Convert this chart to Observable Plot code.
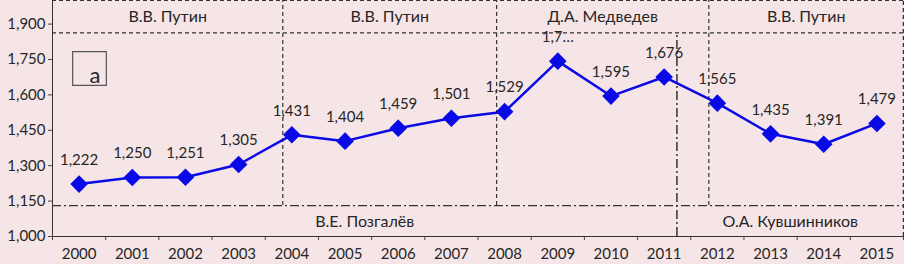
<!DOCTYPE html>
<html>
<head>
<meta charset="utf-8">
<script src="https://cdn.jsdelivr.net/npm/d3@7"></script>
<script src="https://cdn.jsdelivr.net/npm/@observablehq/plot@0.6"></script>
<style>
  html, body { margin: 0; padding: 0; background: #f6e5e7; }
  #chart svg { display: block; }
</style>
</head>
<body>
<div id="chart"></div>
<script>
// ---- data ----
const years = [2000, 2001, 2002, 2003, 2004, 2005, 2006, 2007, 2008, 2009, 2010, 2011, 2012, 2013, 2014, 2015];
const values = [1222, 1250, 1251, 1305, 1431, 1404, 1459, 1501, 1529, 1743, 1595, 1676, 1565, 1435, 1391, 1479];
const valueLabels = ["1,222", "1,250", "1,251", "1,305", "1,431", "1,404", "1,459", "1,501", "1,529", "1,7…", "1,595", "1,676", "1,565", "1,435", "1,391", "1,479"];
const yTicks = [1000, 1150, 1300, 1450, 1600, 1750, 1900];

// presidential terms (top band), in year units on the x scale
const presidents = ["В.В. Путин", "В.В. Путин", "Д.А. Медведев", "В.В. Путин"];
const presStart = [1999.5, 2003.83, 2007.85, 2011.84];
const presEnd = [2003.83, 2007.85, 2011.84, 2015.5];
// governors (bottom band)
const governors = ["В.Е. Позгалёв", "О.А. Кувшинников"];
const govStart = [1999.5, 2011.24];
const govEnd = [2011.24, 2015.5];
// band boundaries on the y scale
const yMin = 1000, yMax = 2000, presLine = 1863, govLine = 1131;
const panelLabel = "а";

// ---- tables built from arrays ----
const series = years.map((year, i) => ({year, value: values[i], label: valueLabels[i]}));
const presTable = presidents.map((name, i) => ({name, start: presStart[i], end: presEnd[i]}));
const govTable = governors.map((name, i) => ({name, start: govStart[i], end: govEnd[i]}));
const xMin = years[0] - 0.5, xMax = years[years.length - 1] + 0.5;
const bounds = d3.range(years.length + 1).map(i => xMin + i);

const ink = "#262626";
const dash = "4,3";
const dashDot = "9,3,2,3";

const chart = Plot.plot({
  width: 904,
  height: 264,
  marginLeft: 52,
  marginRight: 1,
  marginTop: 0,
  marginBottom: 28,
  style: {background: "#f6e5e7", fontFamily: "Lato, 'Open Sans', sans-serif", fontSize: "15px", color: ink},
  x: {domain: [xMin, xMax]},
  y: {domain: [yMin, yMax]},
  marks: [
    // y axis
    Plot.axisY({ticks: yTicks, tickFormat: d3.format(","), tickSize: 4, tickPadding: 3, label: null, fontSize: 15, stroke: "#444"}),
    // x axis: tick marks at band boundaries, labels at years
    Plot.axisX({ticks: bounds, tickFormat: () => "", tickSize: 4, label: null, stroke: "#444"}),
    Plot.axisX({ticks: years, tickFormat: d => String(d), tickSize: 0, tickPadding: 12, label: null, fontSize: 15}),
    // frame lines
    Plot.ruleX([xMin], {y1: yMin, y2: yMax, stroke: "#333", strokeWidth: 1}),
    Plot.ruleY([yMin], {x1: xMin, x2: xMax, stroke: "#333", strokeWidth: 1.2}),
    Plot.ruleY([yMax], {x1: xMin, x2: xMax, stroke: "#333", strokeWidth: 1.2, strokeDasharray: dash}),
    Plot.ruleX([xMax], {y1: yMin, y2: yMax, stroke: "#333", strokeWidth: 1.5, strokeDasharray: dash}),
    // president band
    Plot.ruleY([presLine], {x1: xMin, x2: xMax, stroke: "#333", strokeWidth: 1.2, strokeDasharray: dash}),
    Plot.ruleX(presTable.slice(1), {x: "start", y1: govLine, y2: yMax, stroke: "#333", strokeWidth: 1.2, strokeDasharray: dash}),
    Plot.text(presTable, {x: d => (d.start + d.end) / 2, y: (presLine + yMax) / 2, text: "name", fontSize: 16, fill: ink}),
    // governor band
    Plot.ruleY([govLine], {x1: xMin, x2: xMax, stroke: "#333", strokeWidth: 1.2, strokeDasharray: dashDot}),
    Plot.ruleX(govTable.slice(1), {x: "start", y1: yMin, y2: presLine, stroke: "#333", strokeWidth: 1.5, strokeDasharray: dashDot}),
    Plot.text(govTable, {x: d => (d.start + d.end) / 2, y: (govLine + yMin) / 2 - 2, text: "name", fontSize: 16, fill: ink}),
    // panel label box
    Plot.dot([panelLabel], {frameAnchor: "top-left", dx: 37, dy: 68, symbol: "square", r: 19, fill: "none", stroke: "#555", strokeWidth: 1.2}),
    Plot.text([panelLabel], {frameAnchor: "top-left", dx: 37, dy: 67, text: d => d, fontSize: 22, fill: ink}),
    // series
    Plot.line(series, {x: "year", y: "value", stroke: "#0a0ae6", strokeWidth: 2.5}),
    Plot.dot(series, {x: "year", y: "value", symbol: "diamond2", r: 7, fill: "#0a0ae6", stroke: "#0a0ae6"}),
    Plot.text(series, {x: "year", y: "value", text: "label", dy: -24, fontSize: 15, fill: ink})
  ]
});
document.getElementById("chart").appendChild(chart);
</script>
</body>
</html>
